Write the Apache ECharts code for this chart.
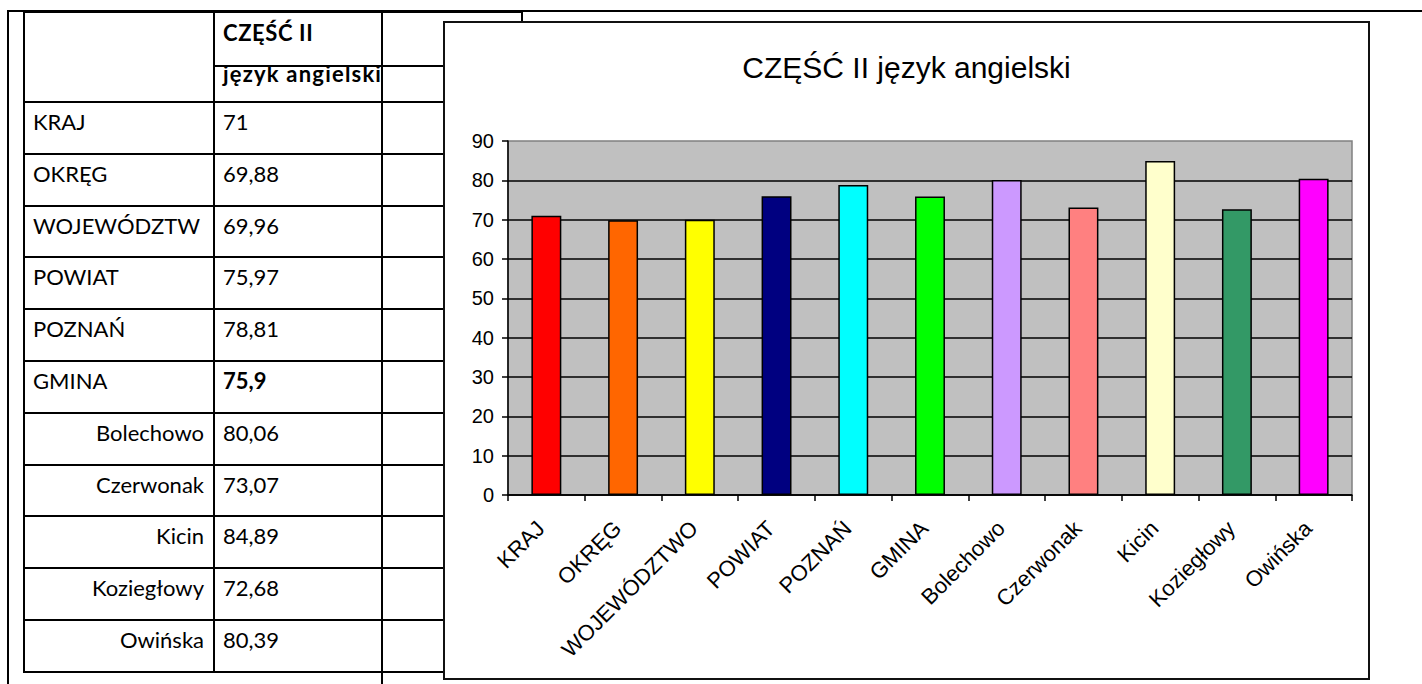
<!DOCTYPE html>
<html>
<head>
<meta charset="utf-8">
<script src="https://cdn.jsdelivr.net/npm/echarts@6/dist/echarts.min.js"></script>
<style>
  html, body { margin: 0; padding: 0; background: #fff; }
  #page { position: relative; width: 1422px; height: 684px; overflow: hidden; background: #fff; }
  .ln { position: absolute; background: #000; }
  .cell { position: absolute; font-family: Lato, "Open Sans", sans-serif; font-size: 22px; color: #000; white-space: nowrap; }
  #chartBox { position: absolute; left: 443px; top: 21px; width: 927px; height: 659px; border: 2px solid #111; box-sizing: border-box; background: #fff; }
  #chart { width: 923px; height: 655px; }
</style>
</head>
<body>
<div id="page">
  <div id="chartBox"><div id="chart"></div></div>
</div>
<script>
// ---- data ----
const categories = ['KRAJ', 'OKRĘG', 'WOJEWÓDZTWO', 'POWIAT', 'POZNAŃ', 'GMINA', 'Bolechowo', 'Czerwonak', 'Kicin', 'Koziegłowy', 'Owińska'];
const tableLabels = ['KRAJ', 'OKRĘG', 'WOJEWÓDZTW', 'POWIAT', 'POZNAŃ', 'GMINA', 'Bolechowo', 'Czerwonak', 'Kicin', 'Koziegłowy', 'Owińska'];
const values = [71, 69.88, 69.96, 75.97, 78.81, 75.9, 80.06, 73.07, 84.89, 72.68, 80.39];
const barColors = ['#FF0000', '#FF6600', '#FFFF00', '#000080', '#00FFFF', '#00FF00', '#CC99FF', '#FF8080', '#FFFFCC', '#339966', '#FF00FF'];
const yTicks = [0, 10, 20, 30, 40, 50, 60, 70, 80, 90];
const headerPart = 'CZĘŚĆ II';
const headerSubject = 'język angielski';
const chartTitle = 'CZĘŚĆ II język angielski';

// ---- table (HTML) ----
const page = document.getElementById('page');
const chartBox = document.getElementById('chartBox');
function line(x, y, w, h) {
  const d = document.createElement('div');
  d.className = 'ln';
  d.style.left = x + 'px'; d.style.top = y + 'px';
  d.style.width = w + 'px'; d.style.height = h + 'px';
  page.insertBefore(d, chartBox);
}
function text(str, x, y, opts) {
  const d = document.createElement('div');
  d.className = 'cell';
  d.textContent = str;
  d.style.top = y + 'px';
  if (opts && opts.right !== undefined) { d.style.right = (1422 - opts.right) + 'px'; }
  else { d.style.left = x + 'px'; }
  if (opts && opts.bold) d.style.fontWeight = 'bold';
  if (opts && opts.ls) d.style.letterSpacing = opts.ls + 'px';
  page.insertBefore(d, chartBox);
}
// page frame
line(8, 10, 1414, 2);
line(7, 10, 2, 674);
// table frame
const tL = 23, c1 = 213, c2 = 381, c3 = 443;
const rowTop0 = 101, rowH = 51.8;
const tBottom = rowTop0 + rowH * values.length;
line(tL, 10, 522 - tL, 3);
line(521, 10, 2, 12);
line(c1, 65, c3 - c1, 2);
for (let i = 0; i <= values.length; i++) {
  line(tL, Math.round(rowTop0 + i * rowH), c3 - tL, 2);
}
line(tL, 10, 2, tBottom - 10 + 2);
line(c1, 10, 2, tBottom - 10 + 2);
line(c2, 10, 2, 684 - 10);

text(headerPart, 223, 19, { bold: true, ls: 0.6 });
text(headerSubject, 223, 60, { bold: true, ls: 1.2 });
for (let i = 0; i < values.length; i++) {
  const y = Math.round(rowTop0 + i * rowH) + 7;
  if (i < 6) text(tableLabels[i], 33, y);
  else text(tableLabels[i], 0, y, { right: 204 });
  text(String(values[i]).replace('.', ','), 223, y, { bold: i === 5 });
}

// ---- chart ----
const chart = echarts.init(document.getElementById('chart'), null, { renderer: 'svg' });
const font = '"Liberation Sans", Arial, sans-serif';
chart.setOption({
  animation: false,
  title: {
    text: chartTitle,
    left: 'center',
    top: 24,
    textStyle: { fontFamily: font, fontSize: 30, fontWeight: 'normal', color: '#000' }
  },
  grid: {
    left: 63, right: 16, top: 118, bottom: 183,
    show: true, backgroundColor: '#C0C0C0', borderColor: '#808080', borderWidth: 1.5
  },
  xAxis: {
    type: 'category',
    data: categories,
    axisLine: { lineStyle: { color: '#000', width: 1.5 } },
    axisTick: { show: true, length: 6, lineStyle: { color: '#000', width: 1.5 } },
    axisLabel: { rotate: 45, margin: 24, padding: [0, 8, 0, 0], interval: 0, fontFamily: font, fontSize: 22, color: '#000' }
  },
  yAxis: {
    type: 'value',
    min: yTicks[0], max: yTicks[yTicks.length - 1], interval: 10,
    axisLine: { show: true, lineStyle: { color: '#000', width: 1.5 } },
    axisTick: { show: true, length: 6, lineStyle: { color: '#000', width: 1.5 } },
    axisLabel: { margin: 14, fontFamily: font, fontSize: 20, color: '#000' },
    splitLine: { show: true, showMaxLine: false, lineStyle: { color: '#000', width: 1.5 } }
  },
  series: [{
    type: 'bar',
    barWidth: '39%',
    data: values.map((v, i) => ({
      value: v,
      itemStyle: { color: barColors[i], borderColor: '#000', borderWidth: 1.5 }
    }))
  }]
});
</script>
</body>
</html>
